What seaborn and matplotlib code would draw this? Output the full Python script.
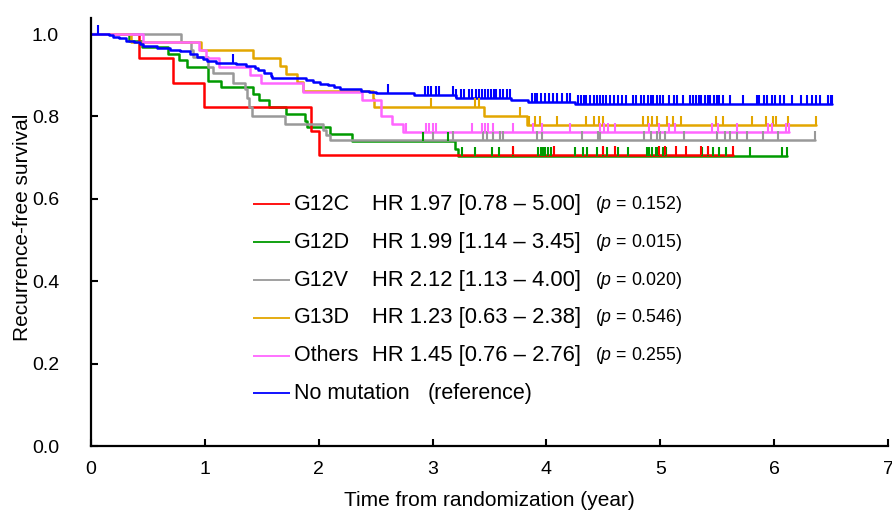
import numpy as np
import pandas as pd
import matplotlib
matplotlib.use("Agg")
import matplotlib.pyplot as plt
from matplotlib.path import Path
import seaborn as sns

# ---------------- data ----------------
groups = ["G12C", "G12D", "G12V", "G13D", "Others", "No mutation"]
colors = ["#FF0000", "#009A00", "#999999", "#E3A600", "#FF66FF", "#0000FF"]

hr_text = ["HR 1.97 [0.78 \u2013 5.00]", "HR 1.99 [1.14 \u2013 3.45]",
           "HR 2.12 [1.13 \u2013 4.00]", "HR 1.23 [0.63 \u2013 2.38]",
           "HR 1.45 [0.76 \u2013 2.76]", "(reference)"]
p_text = ["0.152", "0.015", "0.020", "0.546", "0.255", None]

g12c_t = [0.42, 0.72, 0.99, 1.93, 2.00]
g12c_s = [0.941, 0.882, 0.824, 0.765, 0.706]
g12c_c = [3.71, 4.07, 4.50, 4.60, 4.99, 5.04, 5.14, 5.23, 5.36, 5.42, 5.64]

g12d_t = [0.33, 0.45, 0.68, 0.77, 0.84, 1.03, 1.14, 1.425, 1.48, 1.565,
          1.71, 1.88, 1.90, 2.10, 2.29, 3.20, 3.22]
g12d_s = [0.984, 0.968, 0.952, 0.936, 0.919, 0.887, 0.871, 0.855, 0.839, 0.823,
          0.806, 0.790, 0.774, 0.757, 0.741, 0.722, 0.703]
g12d_c = [2.92, 3.14, 3.26, 3.37, 3.52, 3.58, 3.71, 3.93, 3.95, 3.97, 3.99,
          4.01, 4.04, 4.25, 4.32, 4.36, 4.44, 4.50, 4.53, 4.63, 4.72, 4.88,
          4.90, 4.93, 4.96, 4.98, 5.02, 5.05, 5.37, 5.42, 5.46, 5.52, 5.58,
          5.79, 6.07, 6.11]

g12v_t = [0.79, 0.88, 0.90, 1.03, 1.07, 1.25, 1.35, 1.37, 1.39, 1.41, 1.70,
          2.04, 2.06, 2.10]
g12v_s = [0.980, 0.961, 0.944, 0.921, 0.905, 0.882, 0.866, 0.844, 0.823, 0.801,
          0.783, 0.767, 0.755, 0.743]
g12v_c = [3.005, 3.18, 3.44, 3.48, 3.53, 3.59, 3.62, 3.92, 3.96, 4.31, 4.45,
          4.47, 4.86, 4.92, 4.97, 5.00, 5.04, 5.21, 5.50, 5.57, 5.61, 5.67,
          5.76, 5.90, 6.03, 6.36]

g13d_t = [0.35, 0.97, 1.425, 1.66, 1.71, 1.81, 1.86, 2.48, 2.49, 3.45, 3.83]
g13d_s = [0.981, 0.962, 0.942, 0.923, 0.903, 0.883, 0.862, 0.843, 0.823,
          0.801, 0.779]
g13d_c = [2.99, 3.37, 3.41, 3.77, 3.85, 3.90, 3.94, 4.09, 4.35, 4.42, 4.46,
          4.50, 4.85, 4.89, 4.93, 4.97, 5.06, 5.11, 5.18, 5.49, 5.55, 5.81,
          5.93, 5.99, 6.02, 6.12, 6.37]

oth_t = [0.46, 0.95, 1.01, 1.12, 1.40, 1.49, 1.86, 2.38, 2.55, 2.64, 2.74]
oth_s = [0.981, 0.961, 0.941, 0.921, 0.901, 0.881, 0.860, 0.839, 0.801,
         0.781, 0.763]
oth_c = [2.77, 2.94, 2.97, 3.00, 3.03, 3.35, 3.43, 3.46, 3.49, 3.53, 3.71,
         3.88, 3.96, 4.21, 4.47, 4.51, 4.54, 4.60, 4.90, 4.99, 5.08, 5.13,
         5.45, 5.51, 5.67, 5.95, 5.98, 6.10, 6.13]

nom_t = [0.16, 0.19, 0.25, 0.31, 0.38, 0.43, 0.46, 0.53, 0.58, 0.69, 0.78,
         0.87, 0.93, 0.98, 1.02, 1.10, 1.27, 1.36, 1.44, 1.47, 1.52, 1.58,
         1.59, 1.89, 1.95, 2.01, 2.08, 2.13, 2.19, 2.37, 2.44, 2.50, 2.84,
         3.21, 3.69, 3.84, 4.25]
nom_s = [0.997, 0.992, 0.990, 0.984, 0.980, 0.976, 0.972, 0.970, 0.967,
         0.962, 0.958, 0.952, 0.944, 0.939, 0.934, 0.931, 0.927, 0.923,
         0.918, 0.912, 0.905, 0.899, 0.893, 0.889, 0.884, 0.879, 0.876,
         0.872, 0.867, 0.862, 0.859, 0.857, 0.851, 0.845, 0.840, 0.835, 0.830]
nom_c = [0.06, 1.25, 2.61, 2.93, 2.96, 2.99, 3.03, 3.06, 3.18, 3.21, 3.25,
         3.28, 3.32, 3.35, 3.38, 3.41, 3.43, 3.46, 3.49, 3.51, 3.54, 3.56,
         3.59, 3.62, 3.65, 3.68, 3.87, 3.90, 3.92, 3.95, 3.99, 4.02, 4.06,
         4.09, 4.14, 4.18, 4.21, 4.28, 4.30, 4.33, 4.35, 4.38, 4.42, 4.44,
         4.47, 4.50, 4.52, 4.56, 4.59, 4.63, 4.66, 4.70, 4.76, 4.79, 4.83,
         4.86, 4.89, 4.92, 4.94, 4.97, 5.00, 5.02, 5.08, 5.12, 5.15, 5.20,
         5.26, 5.29, 5.31, 5.34, 5.36, 5.39, 5.42, 5.44, 5.47, 5.50, 5.52,
         5.55, 5.61, 5.73, 5.85, 5.87, 5.91, 5.94, 5.98, 6.01, 6.05, 6.09,
         6.16, 6.24, 6.29, 6.33, 6.37, 6.40, 6.47, 6.50, 6.51]

x_ticks = [0, 1, 2, 3, 4, 5, 6, 7]
y_ticks = [0.0, 0.2, 0.4, 0.6, 0.8, 1.0]
y_tick_labels = ["0.0", "0.2", "0.4", "0.6", "0.8", "1.0"]

event_times = [g12c_t, g12d_t, g12v_t, g13d_t, oth_t, nom_t]
event_surv = [g12c_s, g12d_s, g12v_s, g13d_s, oth_s, nom_s]
censor_times = [g12c_c, g12d_c, g12v_c, g13d_c, oth_c, nom_c]

# ---------------- tidy tables ----------------
curve_rows, cens_rows = [], []
for g, t, s, c in zip(groups, event_times, event_surv, censor_times):
    tt = [0.0] + list(t) + [max(c)]
    ss = [1.0] + list(s) + [s[-1]]
    for a, b in zip(tt, ss):
        curve_rows.append((g, a, b))
    tarr = np.array([0.0] + list(t))
    sarr = np.array([1.0] + list(s))
    for ct in c:
        idx = np.searchsorted(tarr, ct, side="right") - 1
        cens_rows.append((g, ct, sarr[idx]))
curves = pd.DataFrame(curve_rows, columns=["group", "time", "surv"])
cens = pd.DataFrame(cens_rows, columns=["group", "time", "surv"])

palette = dict(zip(groups, colors))
draw_order = ["G12D", "G12C", "G12V", "G13D", "Others", "No mutation"]

# ---------------- figure ----------------
sns.set_theme(style="white")
plt.rcParams["font.family"] = ["Liberation Sans", "DejaVu Sans"]
plt.rcParams["mathtext.fontset"] = "custom"
plt.rcParams["mathtext.it"] = "Liberation Sans:italic"
plt.rcParams["mathtext.rm"] = "Liberation Sans"
for key in ["text.color", "axes.labelcolor", "xtick.color", "ytick.color"]:
    plt.rcParams[key] = "black"

fig = plt.figure(figsize=(8.92, 5.13), dpi=100)
ax = fig.add_axes([0.102, 0.1306, 0.8935, 0.835])

tick_marker = Path([(0, 0), (0, 1)], [Path.MOVETO, Path.LINETO])

for g in draw_order:
    sub = curves[curves.group == g]
    sns.lineplot(data=sub, x="time", y="surv", color=palette[g],
                 drawstyle="steps-post", estimator=None, sort=False,
                 linewidth=1.8, ax=ax, legend=False)
    csub = cens[cens.group == g]
    sns.scatterplot(data=csub, x="time", y="surv", color=palette[g],
                    marker=tick_marker, s=170, edgecolor="face",
                    linewidth=1.5, ax=ax, legend=False, zorder=3)

ax.set_xlim(0, 7)
ax.set_ylim(0, 1.04)
ax.set_xticks(x_ticks)
ax.set_xticklabels([str(v) for v in x_ticks], fontsize=14)
ax.set_yticks(y_ticks)
ax.set_yticklabels(y_tick_labels, fontsize=14)
ax.tick_params(bottom=True, left=True, direction="in", length=5, width=1.5,
               color="black")
ax.tick_params(axis="x", pad=11)
ax.tick_params(axis="y", pad=23)
for side in ["top", "right"]:
    ax.spines[side].set_visible(False)
for side in ["left", "bottom"]:
    ax.spines[side].set_linewidth(1.6)
    ax.spines[side].set_color("black")

ax.set_xlabel("Time from randomization (year)", fontsize=15, labelpad=9)
ax.set_ylabel("Recurrence-free survival", fontsize=15)
ax.yaxis.set_label_coords(-0.0735, 0.51)

# ---------------- legend block ----------------
row_y = [0.587, 0.495, 0.403, 0.311, 0.219, 0.128]
for i, g in enumerate(groups):
    y = row_y[i]
    ax.plot([1.42, 1.75], [y, y], color=colors[i], lw=1.3,
            solid_capstyle="butt")
    ax.text(1.78, y, g, fontsize=15.5, va="center", ha="left")
    if p_text[i] is not None:
        ax.text(2.465, y, hr_text[i], fontsize=15.8, va="center", ha="left")
        ax.text(4.425, y, "(" + r"$p$" + " = " + p_text[i] + ")",
                fontsize=12.8, va="center", ha="left")
    else:
        ax.text(2.96, y, hr_text[i], fontsize=15.5, va="center", ha="left")

fig.savefig("out.png", dpi=100)
